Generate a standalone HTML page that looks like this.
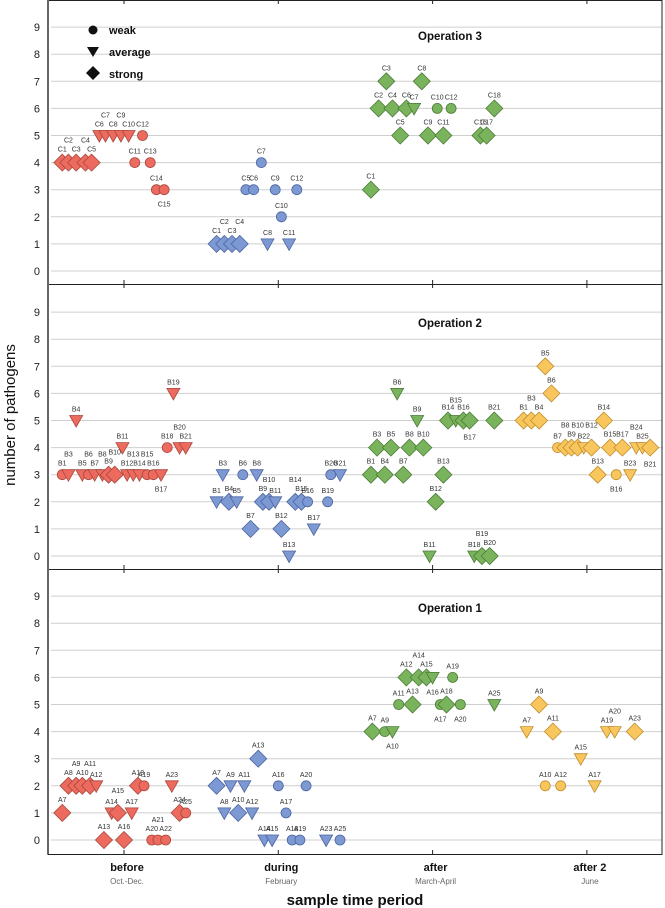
<!DOCTYPE html>
<html><head><meta charset="utf-8"><style>
html,body{margin:0;padding:0;background:#fff;}
svg{display:block;font-family:"Liberation Sans",Arial,sans-serif;}
</style></head><body>
<svg id="chart" width="665" height="908" viewBox="0 0 665 908"></svg>
<script>
// ---------- data ----------
const categories = ["before","during","after","after 2"];
const categorySub = ["Oct.-Dec.","February","March-April","June"];
const yTicks = [0,1,2,3,4,5,6,7,8,9];
const panelTitles = ["Operation 3","Operation 2","Operation 1"];

// Operation 3 (C)
const c0_id = ["C1","C2","C3","C4","C5","C6","C7","C8","C9","C10","C11","C12","C13","C14","C15"];
const c0_x = [-0.40,-0.36,-0.31,-0.25,-0.21,-0.16,-0.12,-0.07,-0.02,0.03,0.07,0.12,0.17,0.21,0.26];
const c0_v = [4,4,4,4,4,5,5,5,5,5,4,5,4,3,3];
const c0_s = "dddddvvvvvooooo";
const c0_l = "-u-u--u-u-----d";
const c1_id = ["C1","C2","C3","C4","C5","C6","C7","C8","C9","C10","C11","C12"];
const c1_x = [0.60,0.65,0.70,0.75,0.79,0.84,0.89,0.93,0.98,1.02,1.07,1.12];
const c1_v = [1,1,1,1,3,3,4,1,3,2,1,3];
const c1_s = "ddddooovoovo";
const c1_l = "-u-u--------";
const c2_id = ["C1","C2","C3","C4","C5","C6","C7","C8","C9","C10","C11","C12","C16","C17","C18"];
const c2_x = [1.60,1.65,1.70,1.74,1.79,1.83,1.88,1.93,1.97,2.03,2.07,2.12,2.31,2.35,2.40];
const c2_v = [3,6,7,6,5,6,6,7,5,6,5,6,5,5,6];
const c2_s = "ddddddvddododdd";
const c2_l = "---------------";

// Operation 2 (B)
const b0_id = ["B1","B3","B4","B5","B6","B7","B8","B9","B10","B11","B12","B13","B14","B15","B16","B17","B18","B19","B20","B21"];
const b0_x = [-0.40,-0.36,-0.31,-0.27,-0.23,-0.19,-0.14,-0.10,-0.06,-0.01,0.02,0.06,0.10,0.15,0.19,0.24,0.28,0.32,0.36,0.40];
const b0_v = [3,3,5,3,3,3,3,3,3,4,3,3,3,3,3,3,4,6,4,4];
const b0_s = "ovvvovvddvvvvoovovvv";
const b0_l = "-u--u-u-u--u-u-d--u-";
const b1_id = ["B1","B3","B4","B5","B6","B7","B8","B9","B10","B11","B12","B13","B14","B15","B16","B17","B19","B20","B21"];
const b1_x = [0.60,0.64,0.68,0.73,0.77,0.82,0.86,0.90,0.94,0.98,1.02,1.07,1.11,1.15,1.19,1.23,1.32,1.34,1.40];
const b1_v = [2,3,2,2,3,1,3,2,2,2,1,0,2,2,2,1,2,3,3];
const b1_s = "vvdvodvddvdvddovoov";
const b1_l = "--------u---u------";
const b2_id = ["B1","B3","B4","B5","B6","B7","B8","B9","B10","B11","B12","B13","B14","B15","B16","B17","B18","B19","B20","B21"];
const b2_x = [1.60,1.64,1.69,1.73,1.77,1.81,1.85,1.90,1.94,1.98,2.02,2.07,2.10,2.15,2.20,2.24,2.27,2.32,2.37,2.40];
const b2_v = [3,4,3,4,6,3,4,5,4,0,2,3,5,5,5,5,0,0,0,5];
const b2_s = "ddddvddvdvdddvddvddd";
const b2_l = "-------------u-d-u--";
const b3_id = ["B1","B3","B4","B5","B6","B7","B8","B9","B10","B22","B12","B13","B14","B15","B16","B17","B23","B24","B25","B21"];
const b3_x = [2.59,2.64,2.69,2.73,2.77,2.81,2.86,2.90,2.94,2.98,3.03,3.07,3.11,3.15,3.19,3.23,3.28,3.32,3.36,3.41];
const b3_v = [5,5,5,7,6,4,4,4,4,4,4,3,5,4,3,4,3,4,4,4];
const b3_s = "dddddodddvddddodvvvd";
const b3_l = "-u----u-u-u---d--u-d";

// Operation 1 (A)
const a0_id = ["A7","A8","A9","A10","A11","A12","A13","A14","A15","A16","A17","A18","A19","A20","A21","A22","A23","A24","A25"];
const a0_x = [-0.40,-0.36,-0.31,-0.27,-0.22,-0.18,-0.13,-0.08,-0.04,0.00,0.05,0.09,0.13,0.18,0.22,0.27,0.31,0.36,0.40];
const a0_v = [1,2,2,2,2,2,0,1,1,0,1,2,2,0,0,0,2,1,1];
const a0_s = "dddddvdvddvdoooovdo";
const a0_l = "--u-u---u-----u----";
const a1_id = ["A7","A8","A9","A10","A11","A12","A13","A14","A15","A16","A17","A18","A19","A20","A23","A25"];
const a1_x = [0.60,0.65,0.69,0.74,0.78,0.83,0.87,0.91,0.96,1.00,1.05,1.09,1.14,1.18,1.31,1.40];
const a1_v = [2,1,2,1,2,1,3,0,0,2,1,0,0,2,0,0];
const a1_s = "dvvdvvdvvooooovo";
const a1_l = "----------------";
const a2_id = ["A7","A9","A10","A11","A12","A13","A14","A15","A16","A17","A18","A19","A20","A25"];
const a2_x = [1.61,1.69,1.74,1.78,1.83,1.87,1.91,1.96,2.00,2.05,2.09,2.13,2.18,2.40];
const a2_v = [4,4,4,5,6,5,6,6,6,5,5,6,5,5];
const a2_s = "dovoddddvodoov";
const a2_l = "--d---u-dd--d-";
const a3_id = ["A7","A9","A10","A11","A12","A15","A17","A19","A20","A23"];
const a3_x = [2.61,2.69,2.73,2.78,2.83,2.96,3.05,3.13,3.18,3.31];
const a3_v = [4,5,2,4,2,3,2,4,4,4];
const a3_s = "vdodovvvvd";
const a3_l = "--------u-";

// ---------- layout ----------
const NS = "http://www.w3.org/2000/svg";
const svg = document.getElementById("chart");
const X0 = 48, X1 = 662;
const fills = ["#ec6b5e","#7d99d4","#79b45d","#f8c65d"];
const strokes = ["#a9473d","#4b649f","#4b7b38","#c08d2c"];
const panels = [
  {top:0, bottom:284, zero:271, series:[[c0_id,c0_x,c0_v,c0_s,c0_l],[c1_id,c1_x,c1_v,c1_s,c1_l],[c2_id,c2_x,c2_v,c2_s,c2_l]]},
  {top:284, bottom:569, zero:556, series:[[b0_id,b0_x,b0_v,b0_s,b0_l],[b1_id,b1_x,b1_v,b1_s,b1_l],[b2_id,b2_x,b2_v,b2_s,b2_l],[b3_id,b3_x,b3_v,b3_s,b3_l]]},
  {top:569, bottom:854, zero:840, series:[[a0_id,a0_x,a0_v,a0_s,a0_l],[a1_id,a1_x,a1_v,a1_s,a1_l],[a2_id,a2_x,a2_v,a2_s,a2_l],[a3_id,a3_x,a3_v,a3_s,a3_l]]}
];
const unit = 27.1;
function xs(u){ return 124 + 154.3*u; }
function ys(p,v){ return p.zero - unit*v; }
function mk(tag, attrs, parent){
  const e = document.createElementNS(NS, tag);
  for (const k in attrs) e.setAttribute(k, attrs[k]);
  (parent||svg).appendChild(e);
  return e;
}

panels.forEach((p, pi) => {
  const g = mk("g", {});
  
  
  yTicks.forEach(t => {
    const y = ys(p, t);
    const gl = mk("line", {x1:X0+3, x2:X1, y1:y, y2:y, stroke:"#cfcfcf", "stroke-width":1}, g);
    
    
    const tl = mk("text", {x:40, y:y+4, "text-anchor":"end", "font-size":11, fill:"#222"}, g);
    tl.textContent = t;
    
    
  });
  const fr = mk("rect", {x:X0, y:p.top+0.5, width:X1-X0, height:p.bottom-p.top, fill:"none", stroke:"#222", "stroke-width":1}, g);
  
  
  mk("line", {x1:X0, x2:X0, y1:p.top, y2:p.bottom, stroke:"#666", "stroke-width":2}, g);
  categories.forEach((c, ci) => {
    const x = xs(ci);
    mk("line", {x1:x, x2:x, y1:p.top, y2:p.top+4, stroke:"#222"}, g);
    mk("line", {x1:x, x2:x, y1:p.bottom-4, y2:p.bottom, stroke:"#222"}, g);
  });
  const tt = mk("text", {x:450, y:p.top + (pi===0?40:43), "text-anchor":"middle", "font-size":11.5, "font-weight":"bold", fill:"#111"}, g);
  tt.textContent = panelTitles[pi];
  
  

  p.series.forEach((s, si) => {
    const [ids, xv, vv, sh, lb] = s;
    const fill = fills[si], stroke = strokes[si];
    ids.forEach((id, i) => {
      const x = xs(xv[i]), y = ys(p, vv[i]);
      let m;
      if (sh[i] === 'd') {
        m = mk("polygon", {points:`${x},${y-8.5} ${x+8.5},${y} ${x},${y+8.5} ${x-8.5},${y}`, fill:fill, stroke:stroke, "stroke-width":0.8}, g);
      } else if (sh[i] === 'v') {
        m = mk("polygon", {points:`${x-6.5},${y-5} ${x+6.5},${y-5} ${x},${y+6.5}`, fill:fill, stroke:stroke, "stroke-width":0.8}, g);
      } else {
        m = mk("circle", {cx:x, cy:y, r:5, fill:fill, stroke:stroke, "stroke-width":0.8}, g);
      }
      
      
      let by = y - (sh[i]==='d' ? 11 : 9);
      if (lb[i] === 'u') by -= 9;
      if (lb[i] === 'd') by = y + (sh[i]==='d' ? 19 : 17);
      const t = mk("text", {x:x, y:by, "text-anchor":"middle", "font-size":7, fill:"#333"}, g);
      t.textContent = id;
      
      
    });
  });
});

// legend
const lg = mk("g", {});


mk("circle", {cx:93, cy:30, r:4.5, fill:"#111"}, lg);
mk("polygon", {points:"87,47 99,47 93,57", fill:"#111"}, lg);
mk("polygon", {points:"93,66 100,73 93,80 86,73", fill:"#111"}, lg);
[["weak",34],["average",56],["strong",78]].forEach(([txt, y]) => {
  const t = mk("text", {x:109, y:y, "font-size":11, "font-weight":"bold", fill:"#111"}, lg);
  t.textContent = txt;
  
  
});

// x labels
categories.forEach((c, ci) => {
  const x = xs(ci) + 3;
  const t = mk("text", {x:x, y:871, "text-anchor":"middle", "font-size":11, "font-weight":"bold", fill:"#111"});
  t.textContent = c;
  
  
  const t2 = mk("text", {x:x, y:884, "text-anchor":"middle", "font-size":8, fill:"#666"});
  t2.textContent = categorySub[ci];
  
  
});
const xt = mk("text", {x:355, y:905, "text-anchor":"middle", "font-size":15, "font-weight":"bold", fill:"#111"});
xt.textContent = "sample time period";


const yt = mk("text", {x:0, y:0, "text-anchor":"middle", "font-size":15, fill:"#111", transform:"translate(15,415) rotate(-90)"});
yt.textContent = "number of pathogens";


</script>
</body></html>
